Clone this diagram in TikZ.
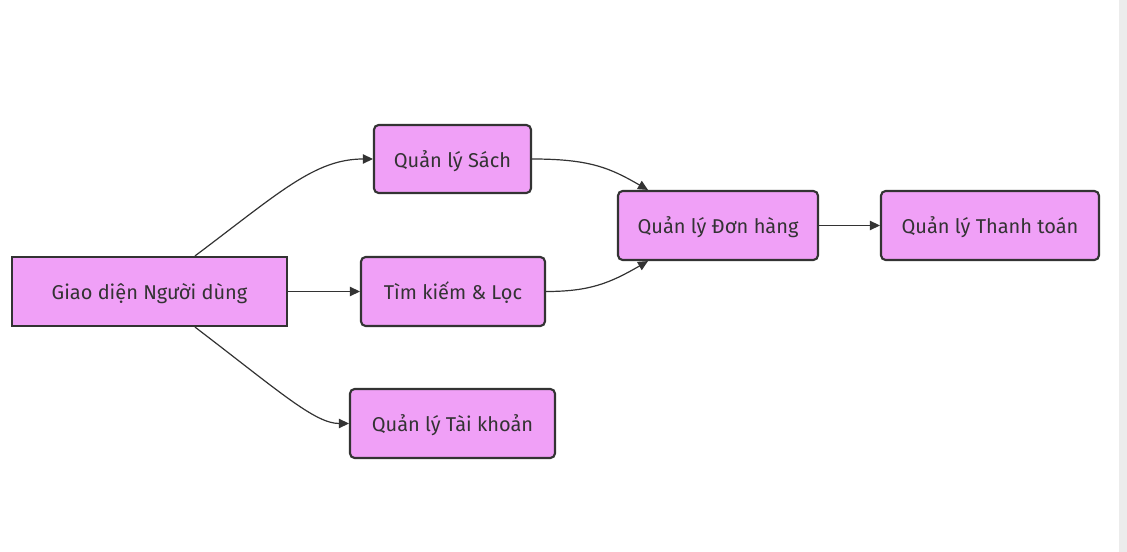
\documentclass[tikz,border=0pt]{standalone}
\usepackage{fontspec}
\setmainfont{Fira Sans}
\usetikzlibrary{arrows.meta,calc}
\definecolor{boxfill}{HTML}{F0A0F7}
\definecolor{ink}{HTML}{333333}
\definecolor{strip}{HTML}{ECECEC}
\tikzset{
  box/.style={draw=ink, line width=1.6pt, fill=boxfill, text=ink, font=\fontsize{15}{18}\selectfont, inner sep=0pt, rounded corners=3.5pt, text height=14pt, text depth=1.5pt},
  sqbox/.style={box, rounded corners=0pt},
  conn/.style={draw=ink, line width=0.9pt, -{Triangle[length=7.5pt,width=7pt]}}
}
\begin{document}
\begin{tikzpicture}[x=0.75pt,y=-0.75pt]
\useasboundingbox (0,0) rectangle (1127,552);
\fill[white] (0,0) rectangle (1127,552);
\fill[strip] (1119,0) rectangle (1127,552);
\node[sqbox, minimum width=275*0.75pt, minimum height=69*0.75pt] (gd) at (149.5,291.5) {Giao diện Người dùng};
\node[box, minimum width=157*0.75pt, minimum height=68*0.75pt] (qs) at (452.5,159) {Quản lý Sách};
\node[box, minimum width=184*0.75pt, minimum height=69*0.75pt] (tk) at (453,291.5) {Tìm kiếm \& Lọc};
\node[box, minimum width=205*0.75pt, minimum height=69*0.75pt] (tkh) at (452.5,423.5) {Quản lý Tài khoản};
\node[box, minimum width=200*0.75pt, minimum height=69*0.75pt] (dh) at (718,225.5) {Quản lý Đơn hàng};
\node[box, minimum width=218*0.75pt, minimum height=69*0.75pt] (tt) at (990,225.5) {Quản lý Thanh toán};
\coordinate (gdt) at ($(gd.north)+(45.5,0)$);
\coordinate (gdb) at ($(gd.south)+(45.5,0)$);
\coordinate (dht) at ($(dh.north)+(-70,0)$);
\coordinate (dhb) at ($(dh.south)+(-70,0)$);
\draw[conn] (gdt) .. controls (280,192) and (315,159) .. (qs.west);
\draw[conn] (gd.east) -- (tk.west);
\draw[conn] (gdb) .. controls (280,392) and (315,423.5) .. (tkh.west);
\draw[conn] (qs.east) .. controls (590,159) and (610,168) .. (dht);
\draw[conn] (tk.east) .. controls (590,291.5) and (610,283) .. (dhb);
\draw[conn] (dh.east) -- (tt.west);
\end{tikzpicture}
\end{document}
